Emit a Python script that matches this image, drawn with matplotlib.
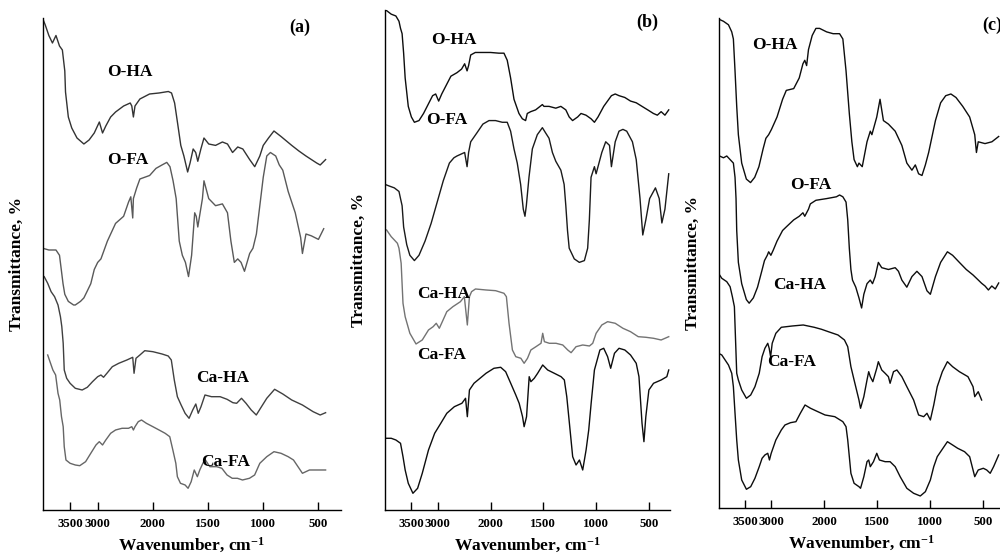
import numpy as np
import matplotlib.pyplot as plt

plt.rcParams['font.family'] = ['Liberation Serif', 'DejaVu Serif']
plt.rcParams['font.weight'] = 'bold'
plt.rcParams['mathtext.fontset'] = 'custom'
plt.rcParams['mathtext.rm'] = 'Liberation Serif:bold'
plt.rcParams['mathtext.it'] = 'Liberation Serif:bold'
plt.rcParams['mathtext.bf'] = 'Liberation Serif:bold'

# wavenumber (cm-1) and transmittance (arbitrary units, curves stacked)
# ---- panel (a)
a_oha_wn = [3990, 3950, 3885, 3820, 3756, 3692, 3640, 3596, 3583, 3532, 3470, 3375, 3250, 3156, 3062, 2970,
            2912, 2853, 2765, 2676, 2530, 2410, 2382, 2353, 2324, 2235, 2060, 1944, 1860, 1831, 1803, 1775,
            1747, 1719, 1685, 1663, 1635, 1612, 1593, 1565, 1537, 1494, 1432, 1370, 1324, 1278, 1231, 1185,
            1123, 1077, 1031, 1000, 952, 903, 839, 742, 677, 613, 516, 484, 435]
a_oha_t = [490.5, 485, 474.5, 467, 474.5, 464, 460, 439, 418, 393, 382, 372, 366, 370, 377, 388,
           377, 384, 393, 398, 404, 407, 404, 393, 404, 411, 416, 417, 418.5, 417, 407, 386,
           364.6, 354, 338, 347, 361, 357.5, 348.7, 361, 372, 366, 364.6, 368, 366, 357.5, 363, 361,
           350.4, 343.3, 354, 364.6, 372, 379, 373.5, 364.6, 359, 354, 347, 345, 350.4]

a_ofa_wn = [4000, 3885, 3756, 3692, 3660, 3628, 3596, 3532, 3437, 3406, 3312, 3250, 3187, 3125, 3062, 3000,
            2941, 2824, 2676, 2530, 2441, 2400, 2365, 2353, 2294, 2235, 2059, 1972, 1916, 1874, 1845, 1817,
            1789, 1761, 1733, 1705, 1677, 1649, 1621, 1607, 1593, 1551, 1537, 1494, 1432, 1370, 1324, 1293,
            1262, 1231, 1201, 1170, 1123, 1093, 1062, 1031, 1000, 968, 935, 887, 855, 823, 774, 710,
            661, 645, 613, 565, 500, 452]
a_ofa_t = [261.8, 260, 260, 254.7, 240.5, 226.3, 215.7, 208.6, 205, 205, 208.6, 212.1, 219.2, 226.3, 240.5, 247.6,
           251.1, 268.9, 286.6, 293.7, 307.9, 313.2, 292, 311.4, 322, 331, 334.5, 341.6, 345.1, 347.6, 343.3, 329.2,
           311.4, 268.9, 254.7, 247.6, 233.4, 254.7, 297.2, 293.7, 283, 311.4, 329.2, 311.4, 304.3, 306.1, 297.2, 268.9,
           247.6, 251.1, 247.6, 238.7, 256.5, 261.8, 276, 304.3, 332.7, 354, 357.5, 354, 345.1, 339.8, 318.5, 297.2,
           272.4, 256.5, 276, 274.2, 270.6, 281.3]

a_caha_wn = [3969, 3906, 3844, 3781, 3719, 3675, 3650, 3625, 3606, 3562, 3500, 3406, 3281, 3188, 3094, 3000,
             2941, 2894, 2824, 2735, 2618, 2471, 2365, 2341, 2306, 2235, 2147, 2000, 1917, 1861, 1833, 1806,
             1778, 1744, 1708, 1672, 1639, 1611, 1589, 1564, 1528, 1469, 1391, 1328, 1275, 1241, 1197, 1156,
             1109, 1063, 1016, 968, 897, 823, 742, 645, 548, 484, 435]
a_caha_t = [233.3, 226.7, 218.3, 213.3, 205, 193.3, 183.3, 166.7, 140, 131.7, 126.7, 121.7, 120, 122.7, 128.3, 133.3,
            135, 132.7, 137.3, 143.3, 146.7, 150, 152.7, 136.7, 151.7, 155, 159.3, 158.3, 156, 154, 150, 130,
            113.3, 105, 96.7, 91.7, 100, 106, 96.7, 103.3, 115, 113.3, 113.3, 110.7, 107.3, 106.7, 111.7, 106.7,
            100, 95, 103.3, 111.7, 120.7, 116, 110, 105, 98.3, 95, 97.3]

a_cafa_wn = [3906, 3875, 3812, 3762, 3719, 3688, 3656, 3625, 3606, 3575, 3500, 3406, 3325, 3219, 3125, 3031,
             2971, 2912, 2853, 2765, 2676, 2559, 2441, 2382, 2353, 2324, 2265, 2206, 2118, 2000, 1944, 1889,
             1847, 1819, 1792, 1778, 1750, 1708, 1681, 1653, 1625, 1597, 1575, 1547, 1528, 1484, 1422, 1375,
             1328, 1281, 1234, 1188, 1125, 1078, 1031, 968, 903, 839, 774, 726, 645, 581, 516, 435]
a_cafa_t = [155, 150, 140, 135, 116.7, 110, 93.3, 83.3, 63.3, 50, 46.7, 45, 44.3, 48.3, 56.7, 65,
            68.3, 65, 70, 76.7, 80, 81.7, 81.7, 83.3, 80, 83.3, 88.3, 90, 86.7, 83.3, 80, 76.7,
            73.3, 60, 46.7, 33.3, 26.7, 25, 21.7, 28.3, 40, 33.3, 40, 46.7, 50.7, 43.3, 43.3, 41.7,
            35, 31.7, 31.7, 30, 31.7, 35, 46.7, 53.3, 58.3, 56.7, 53.3, 50, 36.7, 40, 40, 40]

# ---- panel (b)
b_oha_wn = [3971, 3882, 3794, 3735, 3706, 3676, 3647, 3618, 3559, 3500, 3443, 3356, 3270, 3184, 3098, 3040,
            2983, 2925, 2838, 2751, 2636, 2549, 2491, 2445, 2416, 2376, 2289, 2145, 2000, 1921, 1873, 1842,
            1810, 1778, 1731, 1699, 1668, 1652, 1620, 1573, 1509, 1494, 1446, 1382, 1334, 1287, 1255, 1223,
            1175, 1143, 1096, 1048, 1016, 982, 928, 855, 819, 783, 728, 674, 620, 565, 511, 457,
            420, 384, 348, 312]
b_oha_t = [499.4, 495.8, 494, 488.7, 481.6, 476.3, 456.8, 432, 403.6, 393, 387.7, 389.4, 396.5, 405.4, 414.3, 416,
           408.9, 416, 424.9, 433.8, 437.3, 440.9, 446.2, 439.1, 444.4, 455, 457.5, 457.5, 457.5, 456.8, 456.8, 449.7,
           432, 410.7, 396.5, 391.2, 389.4, 396.5, 398.3, 400.1, 405.4, 403.6, 403.6, 401.8, 403.6, 400.1, 393, 389.4,
           393, 396.5, 394.8, 391.2, 387.7, 393, 403.6, 414.3, 416, 414.3, 412.5, 408.9, 407.2, 403.6, 400.1, 396.5,
           394.8, 398.3, 394.8, 400.1]

b_ofa_wn = [4000, 3912, 3823, 3735, 3706, 3676, 3647, 3588, 3529, 3443, 3356, 3241, 3126, 3011, 2896, 2780,
            2694, 2636, 2491, 2445, 2416, 2376, 2260, 2145, 2029, 1953, 1889, 1842, 1810, 1778, 1747, 1715,
            1690, 1674, 1661, 1636, 1604, 1557, 1509, 1478, 1446, 1414, 1382, 1334, 1303, 1287, 1271, 1255,
            1207, 1159, 1111, 1080, 1064, 1048, 1016, 1000, 982, 946, 909, 873, 855, 819, 783, 746,
            710, 656, 620, 584, 558, 529, 493, 438, 402, 377, 348, 312]
b_ofa_t = [325.6, 323.8, 322.1, 318.5, 311.4, 304.3, 283, 265.3, 254.7, 249.4, 254.7, 268.9, 286.6, 307.9, 329.2, 346.9,
           352.2, 354, 357.5, 343.3, 357.5, 368.2, 377, 385.9, 389.4, 389.4, 387.7, 387.7, 378.8, 361.1, 346.9, 325.6,
           300.8, 293.7, 304.3, 332.7, 361.1, 375.3, 382.3, 377, 371.7, 357.5, 348.7, 339.8, 325.6, 304.3, 279.5, 261.8,
           251.1, 247.6, 249.4, 261.8, 290.1, 332.7, 343.3, 336.2, 343.3, 357.5, 368.2, 364.6, 343.3, 368.2, 378.8, 380.6,
           378.8, 368.2, 350.4, 311.4, 275, 290.1, 311.4, 322.1, 311.4, 287, 300.8, 336.2]

b_caha_wn = [3970, 3882, 3823, 3765, 3735, 3694, 3659, 3618, 3529, 3412, 3294, 3176, 3088, 3029, 2971, 2914,
             2829, 2714, 2571, 2497, 2440, 2400, 2360, 2286, 2086, 1952, 1873, 1850, 1825, 1793, 1761, 1713,
             1682, 1650, 1618, 1570, 1522, 1506, 1490, 1443, 1380, 1316, 1269, 1237, 1190, 1127, 1063, 1032,
             1000, 946, 891, 819, 746, 674, 601, 529, 456, 384, 312]
b_caha_t = [280, 273.3, 270, 266.7, 261.7, 246.7, 206.7, 193.3, 176.7, 166, 170, 180, 183.3, 186.7, 181.7, 188.3,
            198.3, 203.3, 208.3, 213.3, 185, 213.3, 218.3, 221, 220, 219.3, 216.7, 213.3, 186.7, 160, 153.3, 151.7,
            146.7, 151.7, 160, 163.3, 166.7, 176.7, 168.3, 166.7, 166.7, 165, 160, 157.3, 163.3, 165, 164, 166.7,
            176.7, 185, 188.3, 186.7, 181.7, 178.3, 173.3, 172.7, 171.7, 170, 173.3]

b_cafa_wn = [3970, 3882, 3794, 3706, 3659, 3618, 3559, 3471, 3382, 3294, 3176, 3059, 2943, 2829, 2686, 2543,
             2474, 2440, 2400, 2314, 2200, 2086, 1968, 1904, 1857, 1809, 1761, 1729, 1697, 1682, 1659, 1634,
             1618, 1586, 1554, 1506, 1459, 1396, 1332, 1301, 1278, 1253, 1222, 1190, 1158, 1127, 1095, 1070,
             1047, 1016, 964, 928, 891, 862, 826, 783, 728, 674, 620, 594, 565, 547, 529, 500,
             456, 384, 330, 312]
b_cafa_t = [71.7, 71.7, 70, 66.7, 53.3, 40, 26.7, 16.7, 21.7, 36.7, 60, 76.7, 86.7, 96.7, 103.3, 106.7,
            111.7, 93.3, 120, 126.7, 131.7, 136.7, 141.7, 142.7, 138.3, 126.7, 115, 106.7, 93.3, 83.3, 93.3, 133.3,
            128.3, 131.7, 136.7, 145, 140, 136.7, 133.3, 130, 113.3, 86.7, 53.3, 45, 50, 40, 60, 80,
            106.7, 140, 160, 161.7, 153.3, 141.7, 156.7, 161.7, 160, 155, 146.7, 133.3, 86.7, 68.3, 93.3, 120,
            126.7, 130, 133.3, 140]

# ---- panel (c)
c_oha_wn = [3981, 3906, 3812, 3750, 3719, 3688, 3656, 3625, 3562, 3474, 3395, 3316, 3237, 3158, 3105, 3053,
            3000, 2895, 2790, 2720, 2580, 2476, 2406, 2371, 2336, 2301, 2231, 2161, 2091, 1979, 1918, 1857,
            1826, 1796, 1765, 1741, 1720, 1689, 1674, 1643, 1598, 1567, 1552, 1506, 1475, 1443, 1396, 1332,
            1269, 1222, 1174, 1142, 1111, 1079, 1047, 1016, 952, 903, 855, 806, 758, 694, 629, 581,
            565, 548, 484, 419, 355]
c_oha_t = [488.5, 486.7, 483.2, 476.1, 469, 437.1, 401.6, 373.3, 344.9, 328.9, 325.4, 330.7, 341.3, 359.1, 369.7, 373.3,
           378.6, 391, 408.7, 417.6, 419.4, 430, 444.2, 447.7, 442.4, 458.4, 472.5, 479.6, 479.6, 476.1, 474.3, 474.3,
           469, 437.1, 394.5, 366.2, 348.4, 341.3, 344.9, 341.3, 366.2, 376.8, 373.3, 391, 408.7, 387.4, 383.9, 376.8,
           362.6, 344.9, 337.8, 343.1, 334.2, 332.5, 343.1, 355.5, 387.4, 405.2, 412.3, 414, 410.5, 401.6, 391, 373.3,
           355.5, 366.2, 364.4, 366.2, 371.5]

c_ofa_wn = [3981, 3906, 3844, 3781, 3719, 3688, 3669, 3656, 3625, 3562, 3474, 3421, 3342, 3263, 3184, 3132,
            3079, 3053, 3011, 2965, 2895, 2790, 2720, 2580, 2476, 2406, 2371, 2301, 2266, 2161, 1979, 1887,
            1857, 1826, 1796, 1780, 1765, 1750, 1735, 1704, 1674, 1649, 1628, 1598, 1567, 1546, 1521, 1491,
            1459, 1396, 1332, 1301, 1269, 1222, 1174, 1127, 1079, 1032, 1000, 952, 903, 839, 790, 726,
            661, 597, 548, 516, 484, 452, 420, 387, 355]
c_ofa_t = [352, 350.2, 352, 348.4, 344.9, 330.7, 309.4, 277.5, 245.6, 224.3, 208.4, 204.8, 210.1, 220.8, 236.7, 247.4,
           252.7, 256.2, 252.7, 258, 266.9, 277.5, 281.1, 288.1, 291.7, 295.2, 291.7, 298.8, 304.1, 307.7, 309.4, 311.2,
           313, 311.2, 305.9, 288.1, 259.8, 238.5, 227.9, 220.8, 210.1, 200, 213.7, 224.3, 227.9, 224.3, 231.4, 245.6,
           240.3, 238.5, 240.3, 236.7, 227.9, 220.8, 231.4, 236.7, 231.4, 217.2, 213.7, 231.4, 245.6, 256.2, 252.7, 245.6,
           238.5, 233, 228, 224.7, 222, 218, 222, 219, 225]

c_caha_wn = [4000, 3938, 3844, 3781, 3738, 3700, 3656, 3625, 3562, 3473, 3392, 3312, 3231, 3177, 3124, 3070,
             3043, 3016, 2986, 2917, 2814, 2607, 2400, 2193, 2055, 1963, 1872, 1811, 1780, 1750, 1720, 1674,
             1659, 1628, 1598, 1582, 1567, 1543, 1506, 1491, 1459, 1427, 1396, 1380, 1348, 1316, 1269, 1222,
             1158, 1111, 1063, 1032, 1000, 968, 935, 887, 839, 790, 726, 645, 597, 581, 548, 516]
c_caha_t = [234.7, 229.7, 226.3, 221.3, 211.3, 201.3, 134.7, 128, 118, 109.7, 113, 121.3, 134.7, 151.3, 159.7, 164.7,
            159.7, 151.3, 164.7, 174.7, 180.7, 182, 183, 180.7, 178.7, 176.3, 173, 168, 161.3, 141.3, 128, 108,
            99.7, 111.3, 128, 136.3, 131.3, 126.3, 139.7, 146.3, 138, 134.7, 131.3, 124.7, 136.3, 138, 131.3, 121.3,
            108, 93, 91.3, 94.7, 88, 103, 121.3, 136.3, 146.3, 141.3, 136.3, 131.3, 121.3, 111.3, 116.3, 108]

c_cafa_wn = [4000, 3938, 3875, 3812, 3750, 3719, 3688, 3656, 3625, 3562, 3473, 3392, 3312, 3231, 3177, 3124,
             3070, 3038, 3005, 2917, 2814, 2745, 2641, 2538, 2455, 2366, 2262, 2124, 1994, 1902, 1826, 1796,
             1780, 1765, 1750, 1720, 1674, 1659, 1628, 1598, 1582, 1567, 1537, 1506, 1481, 1427, 1380, 1332,
             1285, 1222, 1158, 1095, 1047, 1000, 968, 935, 871, 839, 790, 742, 677, 629, 597, 581,
             548, 500, 468, 435, 403, 355]
c_cafa_t = [154.7, 153, 148, 143, 134.7, 121.3, 94.7, 68, 48, 28, 18.7, 21.3, 29.7, 41.3, 49.7, 53,
            54.7, 48, 54.7, 68, 78, 83, 85.3, 86.3, 94.7, 103, 99.7, 96.3, 93, 91.3, 86.3, 81.3,
            68, 51.3, 34.7, 24.7, 21.3, 19.7, 31.3, 46.3, 48, 41.3, 46.3, 54.7, 48, 46.3, 46.3, 41.3,
            31.3, 19.7, 14.7, 12, 16.3, 28, 41.3, 51.3, 61.3, 66.3, 63, 59.7, 56.3, 51.3, 38, 31.3,
            38, 39.7, 38, 34.7, 41.3, 53]

names = ['O-HA', 'O-FA', 'Ca-HA', 'Ca-FA']
ticks = [3500, 3000, 2000, 1500, 1000, 500]


# usual IR axis: 4000-2000 drawn at half the scale of 2000-400
def fwd(w):
    w = np.asarray(w, dtype=float)
    return np.where(w > 2000, 2000 + (w - 2000) / 2, w)


def inv(t):
    t = np.asarray(t, dtype=float)
    return np.where(t > 2000, 2000 + (t - 2000) * 2, t)


fig = plt.figure(figsize=(10, 5.57), dpi=100)

panels = [
    ('(a)', [0.0425, 0.0844, 0.298, 0.8833], 492,
     [(a_oha_wn, a_oha_t), (a_ofa_wn, a_ofa_t), (a_caha_wn, a_caha_t), (a_cafa_wn, a_cafa_t)],
     ['0.2', '0.35', '0.25', '0.4'],
     [(2412, 438), (2447, 350), (1368, 132), (1341, 48)], (0.864, 0.98)),
    ('(b)', [0.385, 0.0844, 0.285, 0.8977], 500,
     [(b_oha_wn, b_oha_t), (b_ofa_wn, b_ofa_t), (b_caha_wn, b_caha_t), (b_cafa_wn, b_cafa_t)],
     ['0.05', '0.1', '0.45', '0.05'],
     [(2700, 470), (2839, 390), (2890, 216), (2925, 155)], (0.92, 0.976)),
    ('(c)', [0.7185, 0.088, 0.286, 0.8797], 490,
     [(c_oha_wn, c_oha_t), (c_ofa_wn, c_ofa_t), (c_caha_wn, c_caha_t), (c_cafa_wn, c_cafa_t)],
     ['0.05', '0.05', '0.05', '0.05'],
     [(2930, 463), (2258, 323), (2468, 223), (2615, 146)], (0.956, 0.986)),
]

for tag, pos, top, curves, cols, lab_xy, tag_xy in panels:
    ax = fig.add_axes(pos)
    ax.set_xscale('function', functions=(fwd, inv))
    for (wn, tr), col in zip(curves, cols):
        ax.plot(wn, tr, color=col, lw=1.0)
    for name, (x, y) in zip(names, lab_xy):
        ax.text(x, y, name, ha='center', va='center', fontsize=12.5, fontweight='bold')
    ax.text(tag_xy[0], tag_xy[1], tag, transform=ax.transAxes, ha='center', va='center',
            fontsize=13, fontweight='bold')
    ax.set_xlim(4000, 300)
    ax.set_ylim(0, top)
    ax.set_xticks(ticks)
    ax.set_xticklabels([str(t) for t in ticks])
    ax.set_yticks([])
    ax.spines['top'].set_visible(False)
    ax.spines['right'].set_visible(False)
    ax.spines['left'].set_linewidth(1.0)
    ax.spines['bottom'].set_linewidth(1.0)
    ax.tick_params(axis='x', direction='in', length=6, width=1, pad=6, labelsize=9.3)
    ax.set_xlabel(r'Wavenumber, cm$^{-1}$', fontsize=12.5, fontweight='bold', labelpad=4)
    ax.set_ylabel('Transmittance, %', fontsize=12.5, fontweight='bold', labelpad=13)

fig.savefig('out.png', dpi=100)
